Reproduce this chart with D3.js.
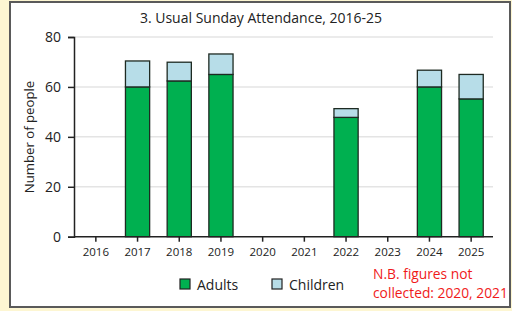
<!DOCTYPE html>
<html>
<head>
<meta charset="utf-8">
<script src="https://cdn.jsdelivr.net/npm/d3@7"></script>
<style>
  body { margin: 0; background: #fdf6d2; }
  svg { display: block; }
</style>
</head>
<body>
<svg id="canvas"></svg>
<script>
// data
const years = ['2016', '2017', '2018', '2019', '2020', '2021', '2022', '2023', '2024', '2025'];
const adults = [0, 60, 62.4, 65, 0, 0, 47.8, 0, 60, 55.2];
const children = [0, 10.4, 7.5, 8.2, 0, 0, 3.5, 0, 6.7, 9.8];
const yTicks = [0, 20, 40, 60, 80];
const seriesNames = ['Adults', 'Children'];
const seriesColors = ['#00b050', '#b7dde8'];

const w = 512, h = 311;
const font = '"Open Sans", Lato, sans-serif';

const canvas = d3.select('#canvas').attr('width', w).attr('height', h);

// panel
canvas.append('rect')
  .attr('x', 10).attr('y', 2)
  .attr('width', 500).attr('height', 305)
  .attr('fill', '#fff')
  .attr('stroke', '#5a5a5a')
  .attr('stroke-width', 2);

const xScale = d3.scaleBand()
  .domain(years)
  .range([75, 492])
  .paddingInner(0.42)
  .paddingOuter(0.21);

const yScale = d3.scaleLinear()
  .domain([0, 80])
  .range([236.7, 37]);

// grid
canvas.append('g')
  .selectAll('line')
  .data(yTicks.filter(d => d > 0))
  .enter()
  .append('line')
  .attr('x1', 74).attr('x2', 493)
  .attr('y1', d => yScale(d)).attr('y2', d => yScale(d))
  .attr('stroke', '#e4e4e4')
  .attr('stroke-width', 1.5);

// stacked bars
const rows = years.map((y, i) => ({ year: y, Adults: adults[i], Children: children[i] }));
const stacked = d3.stack().keys(seriesNames)(rows);

canvas.append('g')
  .selectAll('g')
  .data(stacked)
  .enter()
  .append('g')
  .attr('fill', (d, i) => seriesColors[i])
  .selectAll('rect')
  .data(d => d.filter(p => p[1] - p[0] > 0))
  .enter()
  .append('rect')
  .attr('x', d => xScale(d.data.year))
  .attr('width', xScale.bandwidth())
  .attr('y', d => yScale(d[1]))
  .attr('height', d => yScale(d[0]) - yScale(d[1]))
  .attr('stroke', '#1e2a22')
  .attr('stroke-width', 1.3);

// axes
const xAxis = d3.axisBottom(xScale).tickSizeOuter(0).tickSize(5).tickPadding(6);
const yAxis = d3.axisLeft(yScale).tickValues(yTicks).tickSizeOuter(0).tickSize(6).tickPadding(7);

const gx = canvas.append('g')
  .attr('transform', 'translate(0,' + yScale(0) + ')')
  .call(xAxis);
gx.select('.domain').attr('d', 'M74,0H493');
gx.selectAll('text').attr('font-family', font).attr('font-size', 11.5).attr('fill', '#222');

const gy = canvas.append('g')
  .attr('transform', 'translate(74,0)')
  .call(yAxis);
gy.selectAll('text').attr('font-family', font).attr('font-size', 14).attr('fill', '#222');

canvas.selectAll('.domain, .tick line').attr('stroke', '#222').attr('stroke-width', 1.5);

// title
canvas.append('text')
  .attr('x', 261).attr('y', 23)
  .attr('text-anchor', 'middle')
  .attr('font-family', font).attr('font-size', 14)
  .attr('fill', '#222')
  .text('3. Usual Sunday Attendance, 2016-25');

// y label
canvas.append('text')
  .attr('transform', 'translate(34,137) rotate(-90)')
  .attr('text-anchor', 'middle')
  .attr('font-family', font).attr('font-size', 13.2)
  .attr('fill', '#222')
  .text('Number of people');

// legend
const legendX = [180, 272];
const leg = canvas.append('g')
  .selectAll('g')
  .data(seriesNames)
  .enter()
  .append('g')
  .attr('transform', (d, i) => 'translate(' + legendX[i] + ',279)');
leg.append('rect')
  .attr('width', 10).attr('height', 10)
  .attr('fill', (d, i) => seriesColors[i])
  .attr('stroke', '#222').attr('stroke-width', 1.2);
leg.append('text')
  .attr('x', 17).attr('y', 10.5)
  .attr('font-family', font).attr('font-size', 14)
  .attr('fill', '#222')
  .text(d => d);

// note
const note = ['N.B. figures not', 'collected: 2020, 2021'];
canvas.append('g')
  .selectAll('text')
  .data(note)
  .enter()
  .append('text')
  .attr('x', 373)
  .attr('y', (d, i) => 279 + i * 19)
  .attr('font-family', font).attr('font-size', 13.8)
  .attr('fill', '#f01a1a')
  .text(d => d);
</script>
</body>
</html>
